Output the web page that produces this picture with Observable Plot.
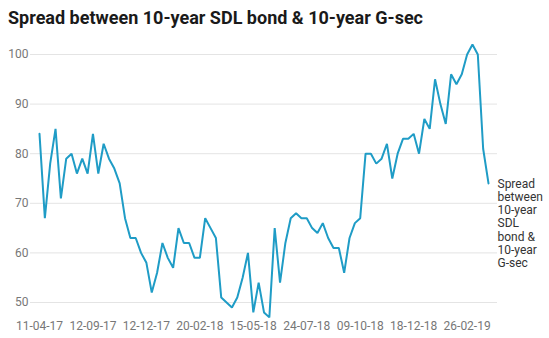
<!DOCTYPE html>
<html>
<head>
<meta charset="utf-8">
<script src="https://cdn.jsdelivr.net/npm/d3@7"></script>
<script src="https://cdn.jsdelivr.net/npm/@observablehq/plot@0.6"></script>
<style>
  html, body { margin: 0; padding: 0; background: #fff; }
  #title { font: 700 18px Roboto, sans-serif; color: #1a1a1a; height: 33px; padding: 7px 0 0 8px; white-space: nowrap; }
  #chart svg { display: block; }
</style>
</head>
<body>
<div id="title">Spread between 10-year SDL bond &amp; 10-year G-sec</div>
<div id="chart"></div>
<script>
const tickLabels = ["11-04-17", "12-09-17", "12-12-17", "20-02-18", "15-05-18", "24-07-18", "09-10-18", "18-12-18", "26-02-19"];
const spread = [
  84, 67, 78, 85, 71, 79, 80, 76, 79, 76,
  84, 76, 82, 79, 77, 74, 67, 63, 63, 60,
  58, 52, 56, 62, 59, 57, 65, 62, 62, 59,
  59, 67, 65, 63, 51, 50, 49, 51, 55, 60,
  48, 54, 48, 47, 65, 54, 62, 67, 68, 67,
  67, 65, 64, 66, 63, 61, 61, 56, 63, 66,
  67, 80, 80, 78, 79, 82, 75, 80, 83, 83,
  84, 80, 87, 85, 95, 90, 86, 96, 94, 96,
  100, 102, 100, 81, 74
];
const seriesName = "Spread\nbetween\n10-year\nSDL\nbond &\n10-year\nG-sec";
const yTicks = [50, 60, 70, 80, 90, 100];

const data = spread.map((v, i) => ({i, v}));
const last = data[data.length - 1];

const chart = Plot.plot({
  width: 549,
  height: 298,
  marginLeft: 30,
  marginRight: 52,
  marginTop: 14,
  marginBottom: 36,
  style: {fontFamily: "Roboto, sans-serif", fontSize: "12px", background: "#fff"},
  x: {domain: [0, spread.length - 1], inset: 9},
  y: {domain: [50, 100]},
  marks: [
    Plot.ruleY(yTicks, {stroke: "#e4e4e4", strokeWidth: 1}),
    Plot.axisY({ticks: yTicks, tickSize: 0, tickPadding: 2, fill: "#777", label: null}),
    Plot.axisX({ticks: tickLabels.map((d, k) => k * 10), tickFormat: i => tickLabels[i / 10], tickSize: 0, tickPadding: 19, fill: "#777", label: null}),
    Plot.line(data, {x: "i", y: "v", stroke: "#1f9cc6", strokeWidth: 2, strokeLinejoin: "miter"}),
    Plot.text([last], {x: "i", y: "v", text: () => seriesName, dx: 9, dy: -5, textAnchor: "start", lineAnchor: "top", lineHeight: 1.1, fill: "#333", fontSize: 12})
  ]
});
document.getElementById("chart").appendChild(chart);
</script>
</body>
</html>
